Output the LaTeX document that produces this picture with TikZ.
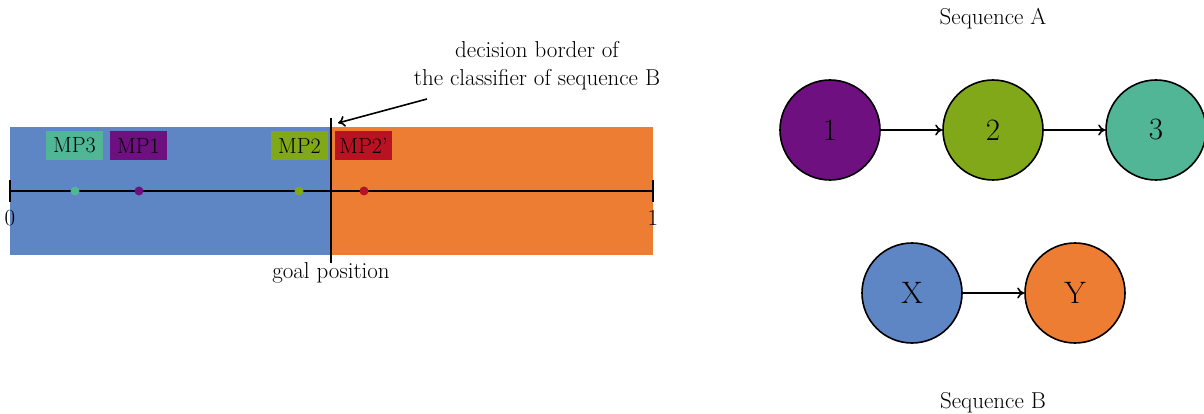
\documentclass[tikz,border=0pt]{standalone}
\usepackage{fontspec}
\setmainfont{Latin Modern Roman}
\usetikzlibrary{arrows.meta}

\definecolor{cblue}{RGB}{94,134,196}
\definecolor{corange}{RGB}{238,125,52}
\definecolor{cpurple}{RGB}{110,16,128}
\definecolor{cgreen}{RGB}{128,168,24}
\definecolor{cteal}{RGB}{80,182,150}
\definecolor{cred}{RGB}{185,18,34}

\tikzset{
  txt/.style={font=\fontsize{23}{28}\selectfont, inner sep=0pt},
  mplabel/.style={fill=#1, font=\fontsize{22}{26}\selectfont, inner xsep=4pt,
    inner ysep=0pt, minimum height=29pt, minimum width=57pt},
  dot/.style={circle, fill=#1, inner sep=0pt, minimum size=9pt},
  seqnode/.style={circle, draw=black, line width=1.6pt, fill=#1, minimum size=100pt,
    inner sep=0pt, font=\fontsize{31}{36}\selectfont},
  conn/.style={line width=1.6pt, -{To[length=7pt,width=11pt]}},
  axisline/.style={line width=1.8pt},
}

\begin{document}
\begin{tikzpicture}[x=1pt, y=-1pt]
\useasboundingbox (0,0) rectangle (1204,414);

% classification regions
\fill[cblue] (10,127) rectangle (331,255);
\fill[corange] (331,127) rectangle (653,255);

% unit axis with end ticks
\coordinate (a0) at (10,191);
\coordinate (a1) at (653,191);
\draw[axisline] (a0) -- (a1);
\draw[axisline] (10,180) -- (10,202);
\draw[axisline] (653,180) -- (653,202);
\node[txt] (zero) at (10,218) {0};
\node[txt] (one) at (653,218) {1};

% goal position / decision border
\coordinate (gtop) at (331,118);
\coordinate (gbot) at (331,263);
\draw[axisline] (gtop) -- (gbot);
\node[txt, anchor=north] (goal) at (331,262) {goal position};

% marker points
\node[dot=cteal] (p3) at (75,191) {};
\node[dot=cpurple] (p1) at (139,191) {};
\node[dot=cgreen] (p2) at (299,191) {};
\node[dot=cred] (p2b) at (364,191) {};

\node[mplabel=cteal] (l3) at (74.5,145.5) {MP3};
\node[mplabel=cpurple] (l1) at (138.5,145.5) {MP1};
\node[mplabel=cgreen] (l2) at (299.5,145.5) {MP2};
\node[mplabel=cred] (l2b) at (363.5,145.5) {MP2'};

% annotation
\node[txt, align=center] (note) at (537,66) {decision border of\\the classifier of sequence B};
\coordinate (nstart) at (427,99);
\coordinate (nend) at (338,123);
\draw[line width=1.6pt, -{To[length=7pt,width=11pt]}] (nstart) -- (nend);

% sequence A
\node[txt] (seqA) at (993,19) {Sequence A};
\node[seqnode=cpurple] (n1) at (830,130) {1};
\node[seqnode=cgreen] (n2) at (993,130) {2};
\node[seqnode=cteal] (n3) at (1156,130) {3};
\draw[conn] (n1) -- (n2);
\draw[conn] (n2) -- (n3);

% sequence B
\node[seqnode=cblue] (nx) at (912,293) {X};
\node[seqnode=corange] (ny) at (1075,293) {Y};
\draw[conn] (nx) -- (ny);
\node[txt] (seqB) at (993,403) {Sequence B};
\end{tikzpicture}
\end{document}
